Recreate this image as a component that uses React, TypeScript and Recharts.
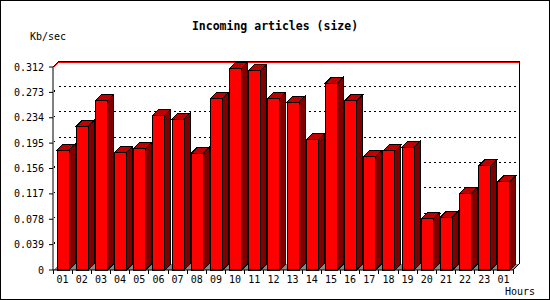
import { BarChart, Bar, XAxis, YAxis, CartesianGrid } from 'recharts';

const HOURS = ['01', '02', '03', '04', '05', '06', '07', '08', '09', '10', '11', '12',
  '13', '14', '15', '16', '17', '18', '19', '20', '21', '22', '23', '01'];
const KBPS = [0.184, 0.221, 0.26, 0.181, 0.187, 0.238, 0.232, 0.179, 0.263, 0.31, 0.307, 0.264,
  0.258, 0.2, 0.287, 0.26, 0.175, 0.183, 0.189, 0.079, 0.081, 0.118, 0.16, 0.136];
const Y_TICKS = [0, 0.039, 0.078, 0.117, 0.156, 0.195, 0.234, 0.273, 0.312];

const D = 6; // 3d depth
const FONT = "'DejaVu Sans Mono', monospace";

const data = HOURS.map((h, i) => ({ hour: h, kb: KBPS[i] }));

function Bar3D(props: any) {
  const { x, y, width, height } = props;
  if (!height || height <= 0) return null;
  const b = y + height;
  const r = x + width;
  return (
    <g stroke="#000" strokeWidth={1} shapeRendering="crispEdges">
      <polygon points={`${x},${y} ${x + D},${y - D} ${r + D},${y - D} ${r},${y}`} fill="#c00000" />
      <polygon points={`${r},${y} ${r + D},${y - D} ${r + D},${b - D} ${r},${b}`} fill="#800000" />
      <rect x={x} y={y} width={width} height={height} fill="#ff0000" />
    </g>
  );
}

function GridLine(props: any) {
  const { x1, x2, y1, y, height } = props;
  const top = y;
  const bottom = y + height;
  if (Math.abs(y1 - bottom) < 0.5) {
    // floor
    return (
      <g shapeRendering="crispEdges">
        <polygon points={`${x1},${y1} ${x2},${y1} ${x2 + D},${y1 - D} ${x1 + D},${y1 - D}`}
          fill="#888" stroke="none" />
        <line x1={x2} y1={y1} x2={x2 + D} y2={y1 - D} stroke="#000" />
      </g>
    );
  }
  if (Math.abs(y1 - top) < 0.5) {
    return (
      <g shapeRendering="crispEdges">
        <line x1={x1} y1={y1} x2={x1 + D} y2={y1 - D} stroke="#000" />
        <line x1={x1 + 1} y1={y1} x2={x1 + D} y2={y1 - D + 1} stroke="#f00" />
        <line x1={x1 + D} y1={y1 - D} x2={x2 + D} y2={y1 - D} stroke="#000" />
        <line x1={x1 + D} y1={y1 - D + 1} x2={x2 + D} y2={y1 - D + 1} stroke="#f00" />
        <line x1={x2 + D} y1={y1 - D} x2={x2 + D} y2={bottom - D} stroke="#000" />
      </g>
    );
  }
  return (
    <g shapeRendering="crispEdges">
      <line x1={x1 + D} y1={y1 - D} x2={x2 + D} y2={y1 - D} stroke="#000" strokeDasharray="2 3" />
      <line x1={x1 + 1} y1={y1 - 1} x2={x1 + 2} y2={y1 - 2} stroke="#000" />
    </g>
  );
}

function HourTick(props: any) {
  const { x, y, payload, index, visibleTicksCount } = props;
  const half = payload?.offset ?? 0;
  const ay = y - 6;
  return (
    <g>
      <line x1={x - half} y1={ay} x2={x - half} y2={ay + 4} stroke="#000" shapeRendering="crispEdges" />
      {index === visibleTicksCount - 1 && (
        <line x1={x + half} y1={ay} x2={x + half} y2={ay + 4} stroke="#000" shapeRendering="crispEdges" />
      )}
      <text x={x} y={y} dy="0.71em" textAnchor="middle" fill="#000" fontSize={10} fontFamily={FONT}>
        {payload.value}
      </text>
    </g>
  );
}

export default function App() {
  return (
    <div style={{ position: 'absolute', left: 0, top: 0, width: 550, height: 300, background: '#fff' }}>
      <BarChart width={550} height={300} data={data} barSize={12}
        margin={{ top: 67, right: 37, left: 0, bottom: 0 }}>
        <CartesianGrid vertical={false} horizontal={GridLine as any} />
        <XAxis dataKey="hour" interval={0} height={30} tickSize={4} tickMargin={2}
          axisLine={{ stroke: '#000' }} tickLine={false} tick={HourTick as any} />
        <YAxis type="number" domain={[0, 0.312]} ticks={Y_TICKS} interval={0} width={53}
          tickSize={4} tickMargin={5} axisLine={{ stroke: '#000' }} tickLine={{ stroke: '#000' }}
          tick={{ fill: '#000', fontSize: 10, fontFamily: FONT }}
          tickFormatter={(v: number) => (v === 0 ? '0' : v.toFixed(3))} />
        <Bar dataKey="kb" shape={Bar3D as any} isAnimationActive={false} />
      </BarChart>
      <div style={{ position: 'absolute', left: 0, top: 20, width: 550, textAlign: 'center',
        fontFamily: FONT, fontWeight: 'bold', fontSize: 11.5, lineHeight: '12px' }}>
        Incoming articles (size)
      </div>
      <div style={{ position: 'absolute', left: 30, top: 31, fontFamily: FONT, fontSize: 10, lineHeight: '12px' }}>
        Kb/sec
      </div>
      <div style={{ position: 'absolute', left: 505, top: 286, fontFamily: FONT, fontSize: 10, lineHeight: '12px' }}>
        Hours
      </div>
      <div style={{ position: 'absolute', left: 0, top: 0, width: 550, height: 300, boxSizing: 'border-box',
        border: '1px solid #000', pointerEvents: 'none' }} />
    </div>
  );
}
